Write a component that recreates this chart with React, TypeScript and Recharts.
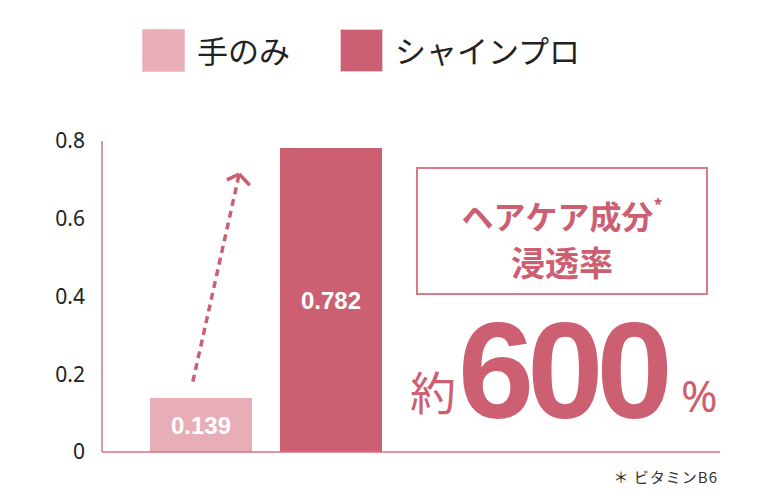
import { BarChart, Bar, XAxis, YAxis, Cell, LabelList, ReferenceLine } from 'recharts';

const categories = ['手のみ', 'シャインプロ'];
const values = [0.139, 0.782];
const colors = ['#e8aeb8', '#cc5f71'];
const yTicks = [0, 0.2, 0.4, 0.6, 0.8];
const boxLines = ['ヘアケア成分', '浸透率'];
const headlineParts = ['約', '600', '%'];
const footnote = '＊ ビタミンB6';

// arrow: x as fraction of plot width, y in data units
const arrowTail = { x: 0.147, y: 0.181 };
const arrowTip = { x: 0.222, y: 0.715 };
const arrowArmLeft = { x: 0.202, y: 0.7 };
const arrowArmRight = { x: 0.239, y: 0.686 };

const data = categories.map((name, i) => ({ name, value: values[i], color: colors[i] }));

const pink = '#cc5f71';
const jp = '"Noto Sans CJK JP", "Noto Sans", sans-serif';

export default function App() {
  return (
    <div style={{ position: 'absolute', left: 0, top: 0, width: 760, height: 500, background: '#fff' }}>
      {/* legend */}
      <div style={{ position: 'absolute', left: 142, top: 28, display: 'flex', alignItems: 'center', fontFamily: jp }}>
        {data.map((d, i) => (
          <div key={d.name} style={{ display: 'flex', alignItems: 'center', marginRight: i === 0 ? 50 : 0 }}>
            <div style={{ width: 43, height: 43, background: d.color, boxSizing: 'border-box', border: '1px solid #f0c4cc' }} />
            <span style={{ marginLeft: 12, fontSize: 31, color: '#222', lineHeight: '44px' }}>{d.name}</span>
          </div>
        ))}
      </div>

      <BarChart width={760} height={500} data={data} margin={{ top: 141, right: 40, bottom: 47, left: 0 }}>
        <XAxis
          dataKey="name"
          height={1}
          tick={false}
          tickLine={false}
          axisLine={{ stroke: '#d8707f', strokeWidth: 1.5 }}
          padding={{ left: 34, right: 324 }}
        />
        <XAxis xAxisId="arrow" type="number" domain={[0, 1]} hide />
        <YAxis
          width={102}
          domain={[0, 0.8]}
          ticks={yTicks}
          tickLine={false}
          tickSize={0}
          tickMargin={17}
          axisLine={{ stroke: '#d8707f', strokeWidth: 1.5 }}
          tick={{ fill: '#222', fontSize: 21, fontFamily: '"Noto Sans", sans-serif' }}
        />
        <Bar dataKey="value" barSize={102} isAnimationActive={false}>
          {data.map((d) => (
            <Cell key={d.name} fill={d.color} />
          ))}
          <LabelList
            dataKey="value"
            position="center"
            fill="#fff"
            fontSize={24}
            fontWeight="bold"
            fontFamily='"Liberation Sans", Arial, sans-serif'
          />
        </Bar>
        <ReferenceLine
          xAxisId="arrow"
          segment={[arrowTail, arrowTip]}
          stroke={pink}
          strokeWidth={3.5}
          strokeDasharray="7 5"
        />
        <ReferenceLine xAxisId="arrow" segment={[arrowArmLeft, arrowTip]} stroke={pink} strokeWidth={3.5} />
        <ReferenceLine xAxisId="arrow" segment={[arrowArmRight, arrowTip]} stroke={pink} strokeWidth={3.5} />
      </BarChart>

      {/* annotation box */}
      <div
        style={{
          position: 'absolute',
          left: 416,
          top: 167,
          width: 292,
          height: 128,
          boxSizing: 'border-box',
          border: '2px solid #d97a89',
          fontFamily: jp,
          fontWeight: 'bold',
          color: pink,
          textAlign: 'center',
        }}
      >
        <div style={{ position: 'absolute', left: 0, right: 0, top: 20, fontSize: 32, lineHeight: '40px' }}>
          {boxLines[0]}
          <sup style={{ fontSize: 18, position: 'relative', top: -4 }}>*</sup>
        </div>
        <div style={{ position: 'absolute', left: 0, right: 0, top: 72, fontSize: 34, lineHeight: '42px' }}>{boxLines[1]}</div>
      </div>

      {/* headline */}
      <div style={{ position: 'absolute', left: 410, top: 362, fontFamily: jp, fontSize: 46, color: pink, lineHeight: '56px' }}>
        {headlineParts[0]}
      </div>
      <div
        style={{
          position: 'absolute',
          left: 458,
          top: 296,
          fontFamily: '"Liberation Sans", Arial, sans-serif',
          fontWeight: 'bold',
          fontSize: 137,
          letterSpacing: -7,
          color: pink,
          lineHeight: '150px',
        }}
      >
        {headlineParts[1]}
      </div>
      <div style={{ position: 'absolute', left: 681, top: 370, fontFamily: '"Noto Sans", sans-serif', fontSize: 44, color: pink, lineHeight: '50px' }}>
        {headlineParts[2]}
      </div>

      {/* footnote */}
      <div style={{ position: 'absolute', right: 42, top: 466, fontFamily: jp, fontSize: 15, color: '#333', lineHeight: '22px', letterSpacing: 1 }}>
        {footnote}
      </div>
    </div>
  );
}
